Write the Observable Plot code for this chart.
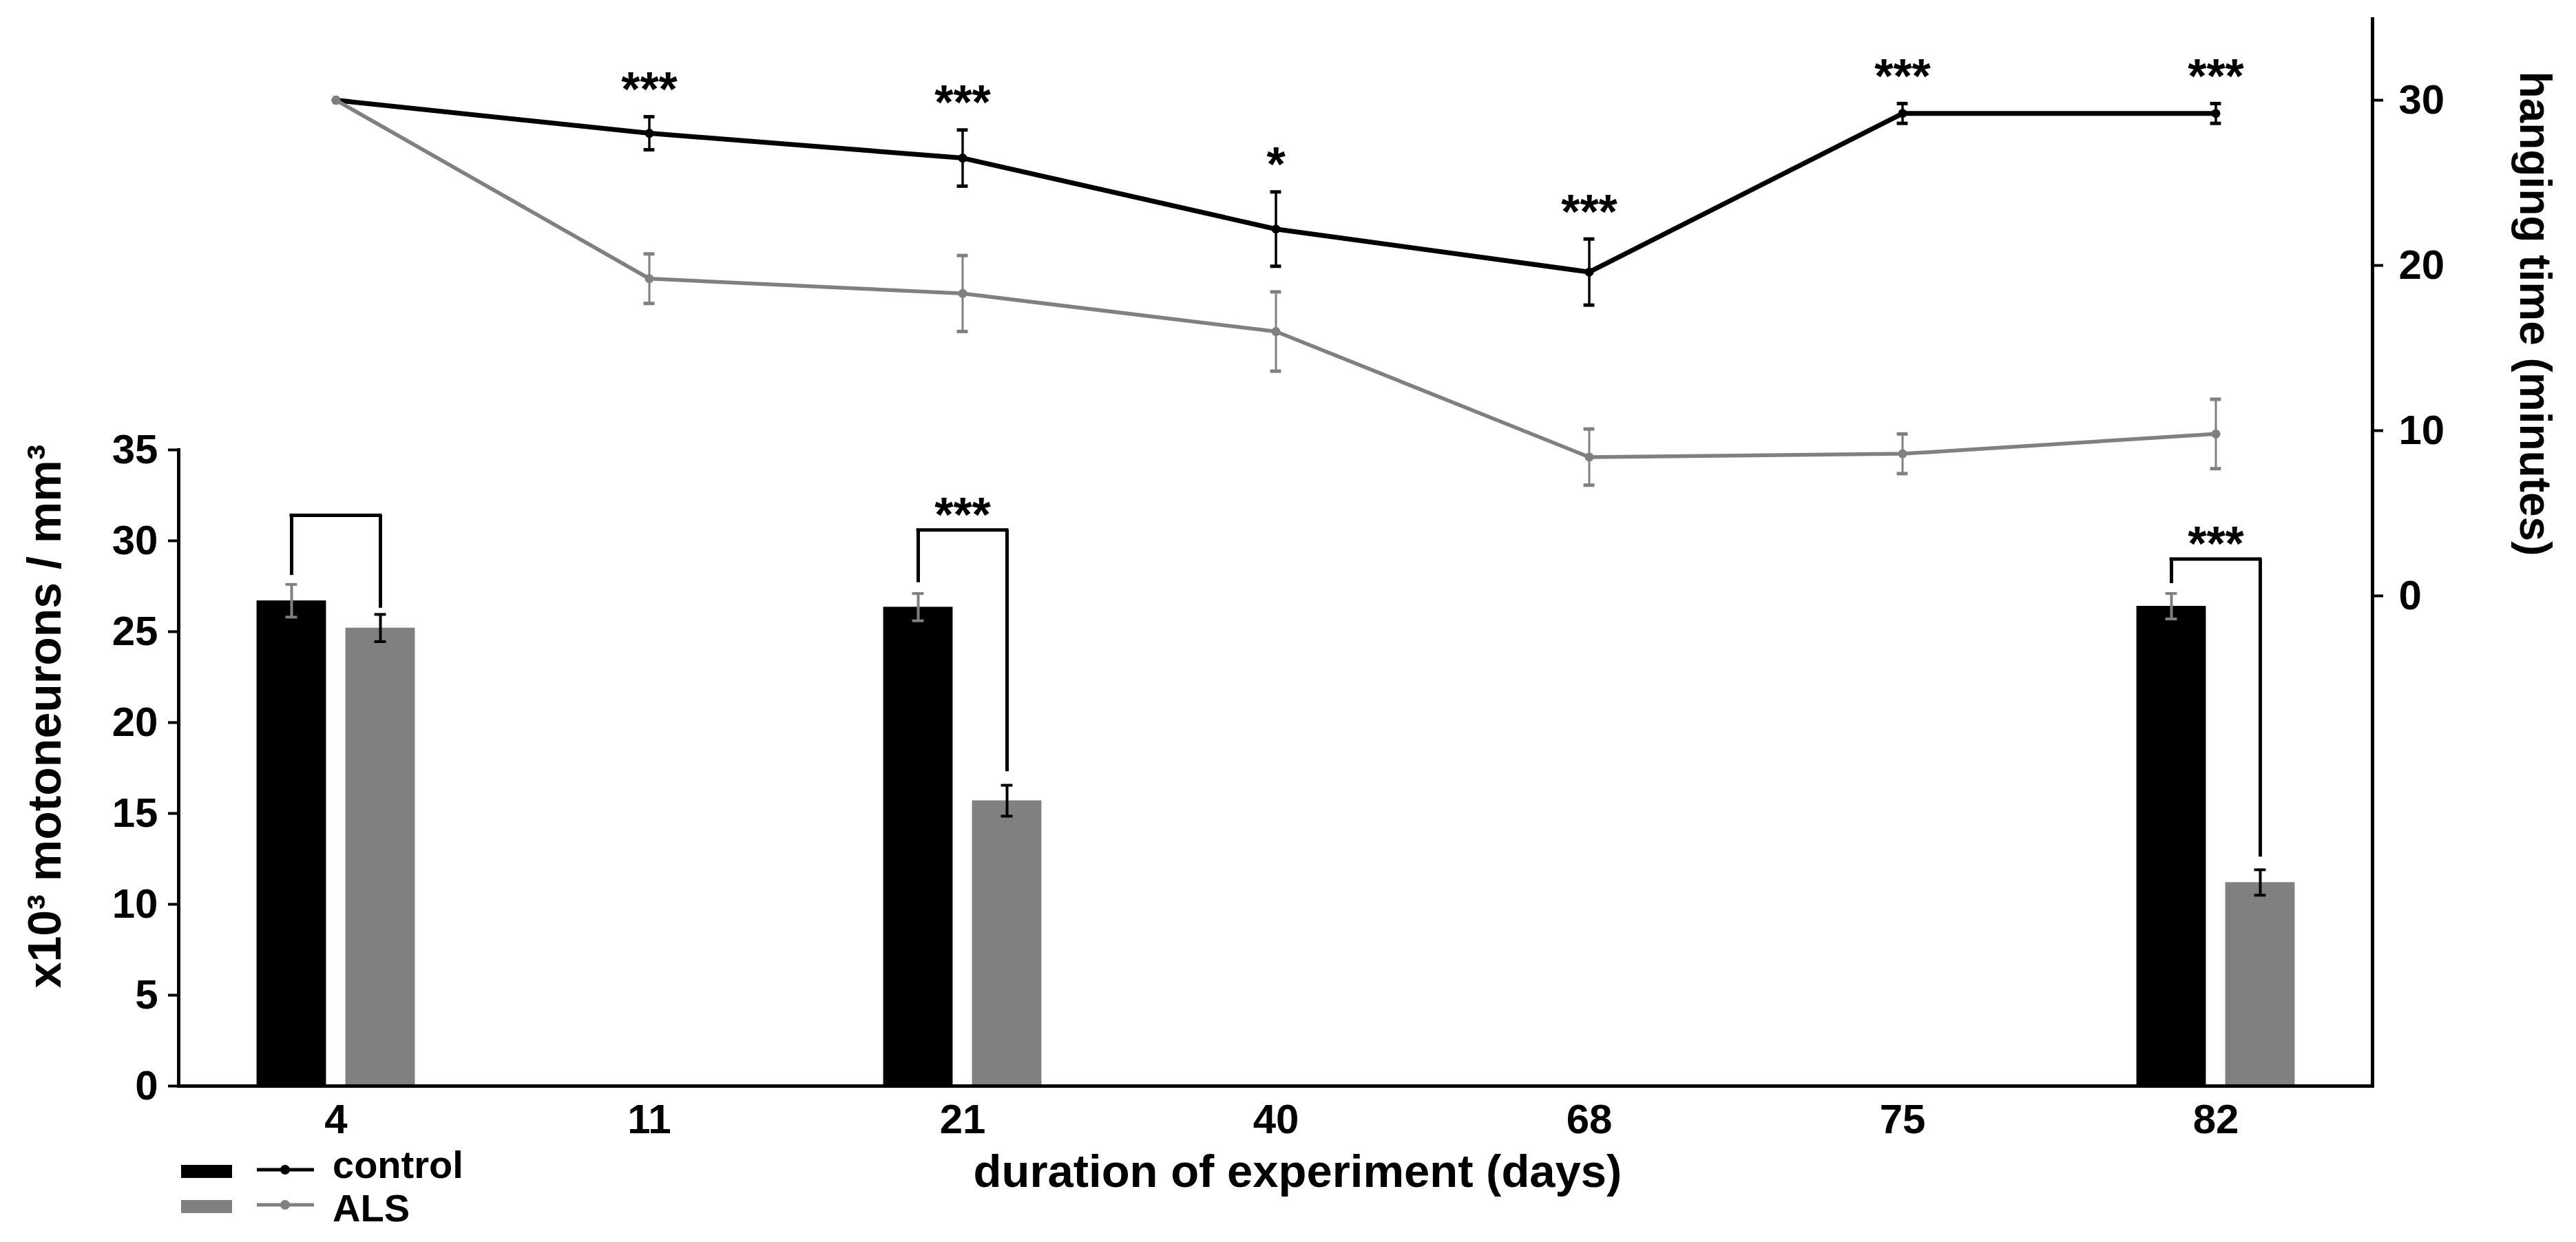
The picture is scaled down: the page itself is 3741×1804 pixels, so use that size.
<!DOCTYPE html>
<html><head><meta charset="utf-8">
<script src="https://cdn.jsdelivr.net/npm/d3@7"></script>
<script src="https://cdn.jsdelivr.net/npm/@observablehq/plot@0.6"></script>
<style>
html,body{margin:0;padding:0;background:#fff;}
#chart{position:relative;width:3741px;height:1804px;font-family:"Liberation Sans",Arial,sans-serif;font-weight:bold;background:#fff;overflow:hidden;}
#chart > svg{position:absolute;left:0;top:0;}
.legend-text{position:absolute;font-size:56px;line-height:48px;color:#000;white-space:nowrap;}
.swatch{position:absolute;width:74px;height:19px;}
</style></head><body><div id="chart"></div>
<script>
// ---- categories ----
const days = [4, 11, 21, 40, 68, 75, 82];
const groupNames = ["control", "ALS"];

// ---- hanging time (minutes), line series (right axis) ----
const controlHang    = [30, 28.0, 26.5, 22.2, 19.6, 29.2, 29.2];
const controlHangErr = [0, 1.0, 1.7, 2.25, 2.0, 0.6, 0.6];
const alsHang        = [30, 19.2, 18.3, 16.0, 8.4, 8.6, 9.8];
const alsHangErr     = [0, 1.5, 2.3, 2.4, 1.7, 1.2, 2.1];
const hangStars      = ["", "***", "***", "*", "***", "***", "***"];

// ---- motoneuron density (x10^3 / mm^3), bar series (left axis) ----
const barDays       = [4, 21, 82];
const controlBar    = [26.7, 26.35, 26.4];
const controlBarErr = [0.9, 0.75, 0.7];
const alsBar        = [25.2, 15.7, 11.2];
const alsBarErr     = [0.75, 0.85, 0.7];

// ---- significance brackets over the bars ----
const bracketTop      = [31.4, 30.6, 29.0];
const bracketLeftEnd  = [28.1, 27.7, 27.65];
const bracketRightEnd = [26.3, 17.3, 12.6];
const bracketLabel    = ["", "***", "***"];

// ---- axis ticks and titles ----
const leftTicks  = [0, 5, 10, 15, 20, 25, 30, 35];
const rightTicks = [0, 10, 20, 30];
const xTitle = "duration of experiment (days)";
const leftTitle = "x10³ motoneurons / mm³";
const rightTitle = "hanging time (minutes)";

// ---- layout / style ----
const W = 3741, H = 1804;
const mL = 259, mR = 296, mB = 227;
const step = (W - mL - mR) / days.length;
const barW = 101, barOff = 64.5, capBar = 17, capLine = 16;
const FONT = '"Liberation Sans", Arial, sans-serif';
const BLACK = "#000000", GRAY = "#808080";

const ctrlBars = barDays.map((d, i) => ({day: d, value: controlBar[i], err: controlBarErr[i]}));
const alsBars  = barDays.map((d, i) => ({day: d, value: alsBar[i], err: alsBarErr[i]}));
const brackets = barDays.map((d, i) => ({day: d, top: bracketTop[i], left: bracketLeftEnd[i], right: bracketRightEnd[i], label: bracketLabel[i]}));
const ctrlHang = days.map((d, i) => ({day: d, value: controlHang[i], err: controlHangErr[i], stars: hangStars[i]}));
const alsHangRows = days.map((d, i) => ({day: d, value: alsHang[i], err: alsHangErr[i]}));

const lo = d => d.value - d.err, hi = d => d.value + d.err;
const baseStyle = {background: "transparent", fontFamily: FONT, fontWeight: "bold", fontSize: "60px", overflow: "visible", color: "#000"};
const hIn = w => ({insetLeft: (step - w) / 2, insetRight: (step - w) / 2});

function barErr(rows, off, color) {
  return [
    Plot.ruleX(rows, {x: "day", y1: lo, y2: hi, stroke: color, strokeWidth: 4, dx: off}),
    Plot.tickY(rows, {x: "day", y: hi, stroke: color, strokeWidth: 4, ...hIn(capBar), dx: off}),
    Plot.tickY(rows, {x: "day", y: lo, stroke: color, strokeWidth: 4, ...hIn(capBar), dx: off})
  ];
}

const plotA = Plot.plot({
  width: W, height: H,
  marginLeft: mL, marginRight: mR, marginTop: 653, marginBottom: mB,
  style: baseStyle,
  x: {type: "band", domain: days, padding: 0, label: null},
  y: {domain: [0, 35], label: null},
  marks: [
    Plot.barY(ctrlBars, {x: "day", y: "value", fill: BLACK, ...hIn(barW), dx: -barOff}),
    Plot.barY(alsBars, {x: "day", y: "value", fill: GRAY, ...hIn(barW), dx: barOff}),
    ...barErr(ctrlBars, -barOff, GRAY),
    ...barErr(alsBars, barOff, BLACK),
    Plot.tickY(brackets, {x: "day", y: "top", stroke: BLACK, strokeWidth: 5, ...hIn(2 * barOff + 5)}),
    Plot.ruleX(brackets, {x: "day", y1: "left", y2: "top", stroke: BLACK, strokeWidth: 5, dx: -barOff}),
    Plot.ruleX(brackets, {x: "day", y1: "right", y2: "top", stroke: BLACK, strokeWidth: 5, dx: barOff}),
    Plot.text(brackets, {x: "day", y: "top", text: "label", dy: -20, fontSize: 70, fontWeight: "bold"}),
    Plot.ruleY([0], {stroke: BLACK, strokeWidth: 5}),
    Plot.frame({anchor: "left", stroke: BLACK, strokeWidth: 5}),
    Plot.axisY({anchor: "left", ticks: leftTicks, tickSize: 15, tickPadding: 15, strokeWidth: 4, fontSize: 60, label: null}),
    Plot.axisX({anchor: "bottom", tickSize: 0, tickPadding: 26, fontSize: 60, label: null}),
    Plot.text([xTitle], {frameAnchor: "bottom", textAnchor: "middle", lineAnchor: "middle", dx: 32, dy: 125, fontSize: 67, fontWeight: "bold"}),
    Plot.text([leftTitle], {frameAnchor: "left", textAnchor: "middle", lineAnchor: "middle", rotate: -90, dx: -193, dy: -75, fontSize: 68, fontWeight: "bold"})
  ]
});

function hangErr(rows, color, sw) {
  const r = rows.filter(d => d.err > 0);
  return [
    Plot.ruleX(r, {x: "day", y1: lo, y2: hi, stroke: color, strokeWidth: sw}),
    Plot.tickY(r, {x: "day", y: hi, stroke: color, strokeWidth: 5, ...hIn(capLine)}),
    Plot.tickY(r, {x: "day", y: lo, stroke: color, strokeWidth: 5, ...hIn(capLine)})
  ];
}

const plotB = Plot.plot({
  width: W, height: H,
  marginLeft: mL, marginRight: mR, marginTop: 27, marginBottom: mB,
  style: baseStyle,
  x: {type: "band", domain: days, padding: 0, label: null, axis: null},
  y: {domain: [-29.67, 34.92], label: null},
  marks: [
    ...hangErr(ctrlHang, BLACK, 3.5),
    Plot.line(ctrlHang, {x: "day", y: "value", stroke: BLACK, strokeWidth: 7, strokeLinejoin: "round"}),
    Plot.dot(ctrlHang, {x: "day", y: "value", r: 6.5, fill: BLACK, stroke: null}),
    ...hangErr(alsHangRows, GRAY, 3),
    Plot.line(alsHangRows, {x: "day", y: "value", stroke: GRAY, strokeWidth: 5.5, strokeLinejoin: "round"}),
    Plot.dot(alsHangRows, {x: "day", y: "value", r: 6.5, fill: GRAY, stroke: null}),
    Plot.text(ctrlHang, {x: "day", y: hi, text: "stars", dy: -38, fontSize: 70, fontWeight: "bold"}),
    Plot.frame({anchor: "right", stroke: BLACK, strokeWidth: 5}),
    Plot.axisY({anchor: "right", ticks: rightTicks, tickSize: 15, tickPadding: 23, strokeWidth: 4, fontSize: 60, label: null}),
    Plot.text([rightTitle], {frameAnchor: "right", textAnchor: "middle", lineAnchor: "middle", rotate: 90, dx: 235, dy: -347, fontSize: 64, fontWeight: "bold"})
  ]
});

const chart = document.getElementById("chart");
chart.appendChild(plotA);
chart.appendChild(plotB);

// ---- legend (HTML, bottom left) ----
const legendColors = [BLACK, GRAY];
const legendTop = [1692, 1743];
const legendBaseline = [1709, 1772];
groupNames.forEach((name, i) => {
  const sw = document.createElement("div");
  sw.className = "swatch";
  sw.style.left = "263px"; sw.style.top = legendTop[i] + "px"; sw.style.background = legendColors[i];
  chart.appendChild(sw);
  const ns = "http://www.w3.org/2000/svg";
  const s = document.createElementNS(ns, "svg");
  s.setAttribute("width", 90); s.setAttribute("height", 20);
  s.style.position = "absolute"; s.style.left = "370px"; s.style.top = (legendTop[i] - 3) + "px";
  const ln = document.createElementNS(ns, "line");
  ln.setAttribute("x1", 3); ln.setAttribute("x2", 86); ln.setAttribute("y1", 10); ln.setAttribute("y2", 10);
  ln.setAttribute("stroke", legendColors[i]); ln.setAttribute("stroke-width", 5);
  const c = document.createElementNS(ns, "circle");
  c.setAttribute("cx", 44); c.setAttribute("cy", 10); c.setAttribute("r", 7); c.setAttribute("fill", legendColors[i]);
  s.appendChild(ln); s.appendChild(c);
  chart.appendChild(s);
  const t = document.createElement("div");
  t.className = "legend-text";
  t.textContent = name;
  t.style.left = "483px"; t.style.top = (legendBaseline[i] - 41) + "px";
  chart.appendChild(t);
});
</script>
</body></html>
